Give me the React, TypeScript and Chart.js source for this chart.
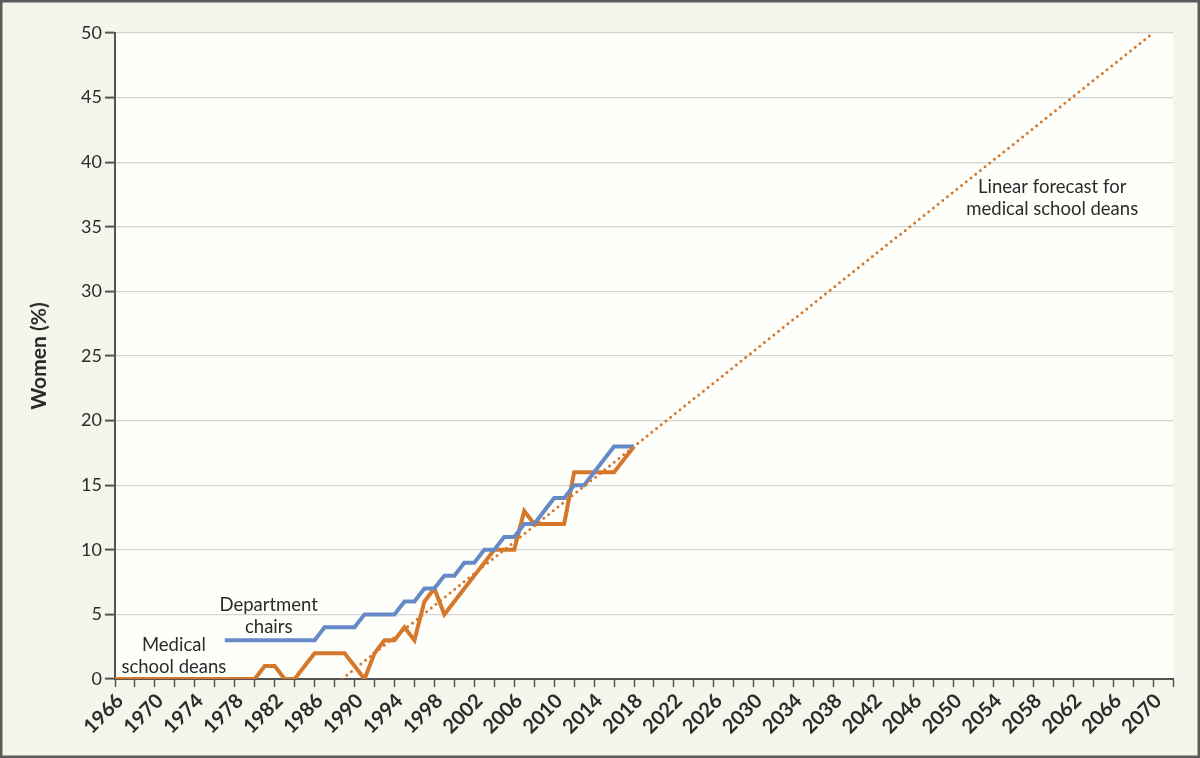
import React, { useRef, useEffect } from "react"
import { Chart, registerables } from "chart.js"

Chart.register(...registerables)

// yearly share of women (%)
const deanYears = [
  1966, 1967, 1968, 1969, 1970, 1971, 1972, 1973, 1974, 1975, 1976, 1977, 1978, 1979, 1980,
  1981, 1982, 1983, 1984, 1985, 1986, 1987, 1988, 1989, 1990, 1991, 1992, 1993, 1994, 1995,
  1996, 1997, 1998, 1999, 2000, 2001, 2002, 2003, 2004, 2005, 2006, 2007, 2008, 2009, 2010,
  2011, 2012, 2013, 2014, 2015, 2016, 2017, 2018,
]
const deanValues = [
  0, 0, 0, 0, 0, 0, 0, 0, 0, 0, 0, 0, 0, 0, 0,
  1, 1, 0, 0, 1, 2, 2, 2, 2, 1, 0, 2, 3, 3, 4,
  3, 6, 7, 5, 6, 7, 8, 9, 10, 10, 10, 13, 12, 12, 12,
  12, 16, 16, 16, 16, 16, 17, 18,
]

const chairYears = [
  1977, 1978, 1979, 1980, 1981, 1982, 1983, 1984, 1985, 1986, 1987, 1988, 1989, 1990, 1991,
  1992, 1993, 1994, 1995, 1996, 1997, 1998, 1999, 2000, 2001, 2002, 2003, 2004, 2005, 2006,
  2007, 2008, 2009, 2010, 2011, 2012, 2013, 2014, 2015, 2016, 2017, 2018,
]
const chairValues = [
  3, 3, 3, 3, 3, 3, 3, 3, 3, 3, 4, 4, 4, 4, 5,
  5, 5, 5, 6, 6, 7, 7, 8, 8, 9, 9, 10, 10, 11, 11,
  12, 12, 13, 14, 14, 15, 15, 16, 17, 18, 18, 18,
]

// linear forecast for deans (end points of the fitted line)
const forecastYears = [1988.75, 2070]
const forecastValues = [0, 50]

const yTicks = [0, 5, 10, 15, 20, 25, 30, 35, 40, 45, 50]

const ORANGE = "#d5782c"
const BLUE = "#6689c8"
const INK = "#2b2b2b"
const AXIS = "#545454"
const FONT = "Lato, 'Open Sans', sans-serif"

const toPoints = (xs: number[], ys: number[]) => xs.map((x, i) => ({ x, y: ys[i] }))

const notes = [
  { lines: ["Department", "chairs"], x: 1981.4, y: [5.73, 4.02] },
  { lines: ["Medical", "school deans"], x: 1971.9, y: [2.63, 0.93] },
  { lines: ["Linear forecast for", "medical school deans"], x: 2059.9, y: [38.08, 36.38] },
]

const framePlugin = {
  id: "frame",
  beforeDraw(chart: any) {
    const { ctx, width, height, chartArea } = chart
    ctx.save()
    ctx.fillStyle = "#f6f5ec"
    ctx.fillRect(0, 0, width, height)
    ctx.fillStyle = "#fefefa"
    ctx.fillRect(chartArea.left, chartArea.top, chartArea.right - chartArea.left, chartArea.bottom - chartArea.top)
    ctx.restore()
  },
  afterDraw(chart: any) {
    const { ctx, width, height } = chart
    ctx.save()
    ctx.strokeStyle = "#5b5b5b"
    ctx.lineWidth = 3
    ctx.strokeRect(1, 1, width - 2, height - 2)
    ctx.restore()
  },
}

const notesPlugin = {
  id: "notes",
  afterDatasetsDraw(chart: any) {
    const { ctx, scales } = chart
    ctx.save()
    ctx.fillStyle = INK
    ctx.font = `18.5px ${FONT}`
    ctx.textAlign = "center"
    ctx.textBaseline = "middle"
    notes.forEach((n) => {
      n.lines.forEach((t, i) => {
        ctx.fillText(t, scales.x.getPixelForValue(n.x), scales.y.getPixelForValue(n.y[i]))
      })
    })
    ctx.restore()
  },
}

const WomenChart: React.FC = () => {
  const canvasRef = useRef<HTMLCanvasElement>(null)

  useEffect(() => {
    if (!canvasRef.current) return
    const chart = new Chart(canvasRef.current.getContext("2d"), {
      type: "line",
      data: {
        datasets: [
          {
            label: "Linear forecast for medical school deans",
            data: toPoints(forecastYears, forecastValues),
            borderColor: ORANGE,
            borderWidth: 3,
            borderDash: [0, 6],
            borderCapStyle: "round",
            pointRadius: 0,
            fill: false,
          },
          {
            label: "Department chairs",
            data: toPoints(chairYears, chairValues),
            borderColor: BLUE,
            borderWidth: 4,
            pointRadius: 0,
            fill: false,
          },
          {
            label: "Medical school deans",
            data: toPoints(deanYears, deanValues),
            borderColor: ORANGE,
            borderWidth: 4,
            pointRadius: 0,
            fill: false,
          },
        ],
      },
      options: {
        animation: false,
        responsive: false,
        layout: { padding: { top: 33, right: 27, left: 0, bottom: 0 } },
        plugins: { legend: { display: false }, tooltip: { enabled: false } },
        scales: {
          x: {
            type: "linear",
            min: 1966,
            max: 2072,
            afterFit: (s: any) => {
              s.height = 79
            },
            border: { color: AXIS, width: 2 },
            grid: { drawOnChartArea: false, tickColor: AXIS, tickLength: 8, tickWidth: 1.5 },
            ticks: {
              stepSize: 2,
              autoSkip: false,
              minRotation: 45,
              maxRotation: 45,
              padding: 2,
              labelOffset: 5,
              color: INK,
              font: { family: FONT, size: 20, weight: "bold" },
              callback: (v: any) => ((v - 1966) % 4 === 0 && v <= 2070 ? String(v) : ""),
            },
          },
          y: {
            min: 0,
            max: 50,
            afterFit: (s: any) => {
              s.width = 115
            },
            afterBuildTicks: (s: any) => {
              s.ticks = yTicks.map((value) => ({ value }))
            },
            border: { color: AXIS, width: 2 },
            grid: { color: "#d3d3d3", lineWidth: 1.2, tickColor: AXIS, tickLength: 10, tickWidth: 2 },
            ticks: {
              padding: 3,
              color: INK,
              font: { family: FONT, size: 18 },
            },
            title: {
              display: true,
              text: "Women (%)",
              color: INK,
              padding: { top: 27, bottom: 0 },
              font: { family: FONT, size: 21, weight: "bold" },
            },
          },
        },
      },
      plugins: [framePlugin, notesPlugin],
    } as any)
    return () => {
      chart.destroy()
    }
  }, [])

  return <canvas ref={canvasRef} width={1200} height={758} />
}

const App: React.FC = () => (
  <div style={{ position: "fixed", left: 0, top: 0, width: 1200, height: 758 }}>
    <WomenChart />
  </div>
)

export default App
